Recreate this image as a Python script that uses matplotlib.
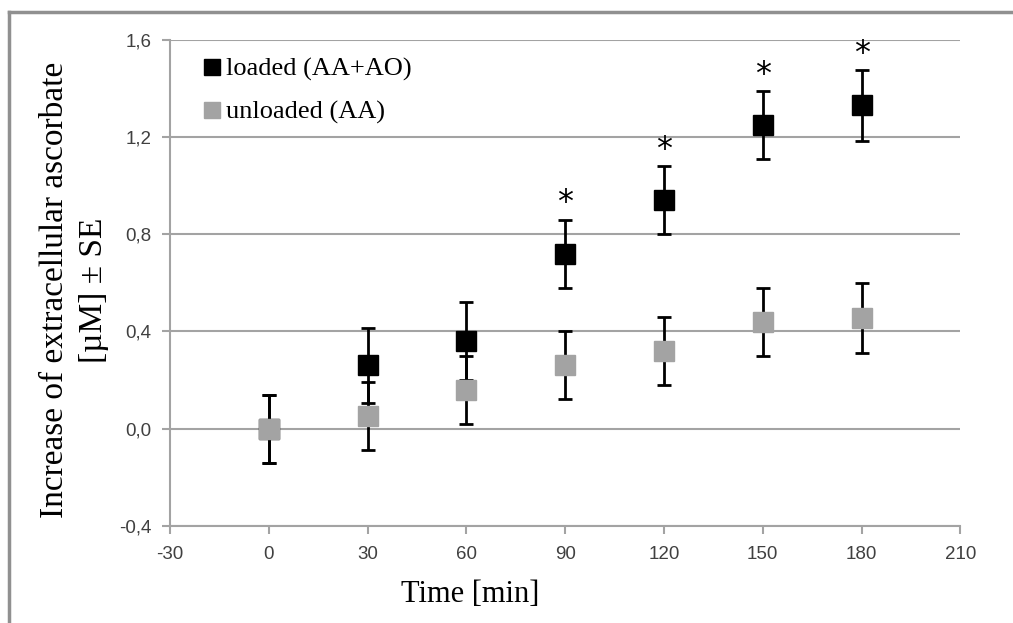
import matplotlib
matplotlib.use("Agg")
import matplotlib.pyplot as plt
from matplotlib.lines import Line2D
from matplotlib.ticker import FuncFormatter

plt.rcParams["axes.unicode_minus"] = False

# data
time = [0, 30, 60, 90, 120, 150, 180]
loaded = [0.0, 0.26, 0.36, 0.72, 0.94, 1.25, 1.33]
loaded_se = [0.14, 0.155, 0.16, 0.14, 0.14, 0.14, 0.145]
unloaded = [0.0, 0.05, 0.16, 0.26, 0.32, 0.44, 0.455]
unloaded_se = [0.14, 0.14, 0.14, 0.14, 0.14, 0.14, 0.145]
significant = [False, False, False, True, True, True, True]

gray = "#a3a3a3"
serif = "Liberation Serif"

fig = plt.figure(figsize=(10.13, 6.23), dpi=100)
ax = fig.add_axes([0.168, 0.156, 0.780, 0.780])

ax.errorbar(time, loaded, yerr=loaded_se, fmt="s", color="black", ms=14,
            ecolor="black", elinewidth=2, capsize=5, capthick=2, zorder=3)
ax.errorbar(time, unloaded, yerr=unloaded_se, fmt="s", color=gray, ms=14,
            ecolor="black", elinewidth=2, capsize=5, capthick=2, zorder=4)

for t, v, e, s in zip(time, loaded, loaded_se, significant):
    if s:
        ax.annotate("*", (t, v + e), xytext=(0, 1), textcoords="offset points",
                    ha="center", va="bottom", fontsize=23, family="DejaVu Sans")

ax.set_xlim(-30, 210)
ax.set_ylim(-0.4, 1.6)
ax.set_xticks(range(-30, 211, 30))
ax.set_yticks([-0.4, 0.0, 0.4, 0.8, 1.2, 1.6])
ax.yaxis.set_major_formatter(FuncFormatter(lambda v, p: f"{v:.1f}".replace(".", ",")))

ax.yaxis.grid(True, color=gray, linewidth=1.5)
ax.set_axisbelow(True)
for side in ["top", "right"]:
    ax.spines[side].set_visible(False)
for side in ["left", "bottom"]:
    ax.spines[side].set_color(gray)
    ax.spines[side].set_linewidth(1.5)
ax.tick_params(axis="both", colors=gray, length=5.5, width=1.5, labelsize=13.5,
               labelcolor="#404040")
ax.tick_params(axis="x", pad=9)
ax.tick_params(axis="y", pad=8)
for lab in ax.get_xticklabels() + ax.get_yticklabels():
    lab.set_family("Liberation Sans")

ax.set_xlabel("Time [min]", family=serif, fontsize=22)
ax.xaxis.set_label_coords(0.38, -0.112)
ax.set_ylabel("Increase of extracellular ascorbate\n[\u00b5M] \u00b1 SE", family=serif,
              fontsize=24, linespacing=1.35)
ax.yaxis.set_label_coords(-0.078, 0.485)

handles = [Line2D([], [], ls="none", marker="s", color="black", ms=11.5),
           Line2D([], [], ls="none", marker="s", color=gray, ms=11.5)]
ax.legend(handles, ["loaded (AA+AO)", "unloaded (AA)"], loc="upper left",
          bbox_to_anchor=(0.016, 1.002), frameon=False,
          prop={"family": serif, "size": 19}, handletextpad=0.15,
          handlelength=0.8, labelspacing=0.72, borderaxespad=0.3)

# outer frame (left and top only)
fig.add_artist(Line2D([0.009, 0.009], [0.0, 0.981], color="#909090", lw=2.5))
fig.add_artist(Line2D([0.009, 1.0], [0.981, 0.981], color="#909090", lw=2.5))

fig.savefig("out.png", dpi=100)
